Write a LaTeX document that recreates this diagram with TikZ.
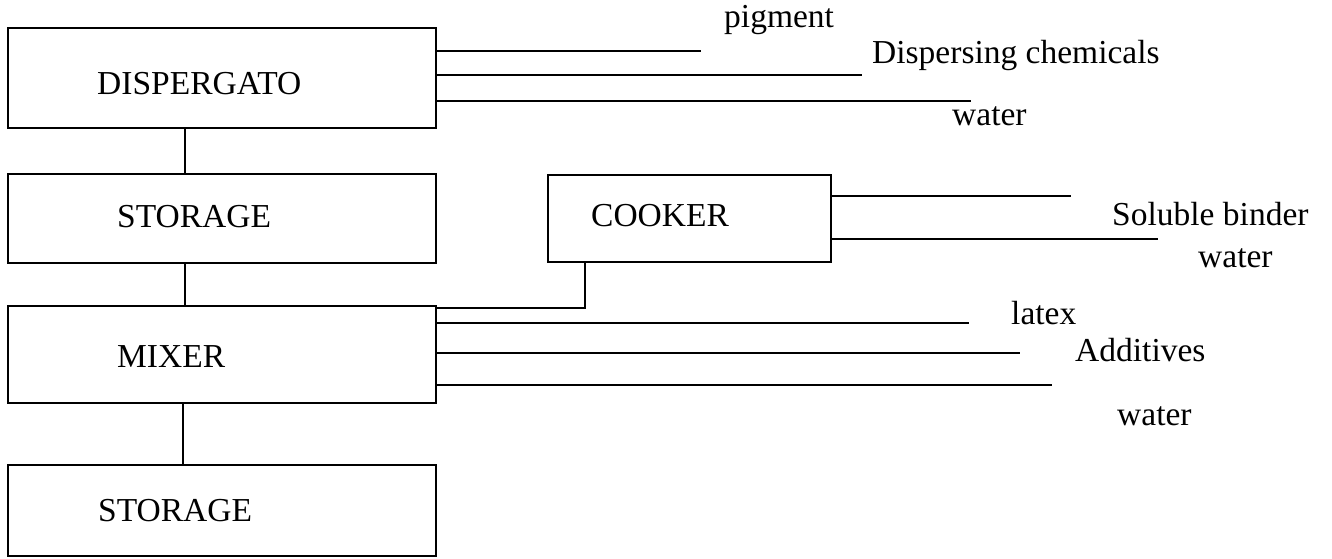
\documentclass[tikz,border=0pt]{standalone}
\usepackage{fontspec}
\setmainfont{Liberation Serif}
\begin{document}
\begin{tikzpicture}[x=1pt,y=-1pt,
  box/.style={draw,line width=1.5pt,inner sep=0pt,anchor=north west},
  lbl/.style={inner sep=0pt,font=\fontsize{33.5}{38}\selectfont},
  feed/.style={line width=1.5pt}]
\useasboundingbox (0,0) rectangle (1332,558);
% boxes
\node[box,minimum width=428pt,minimum height=100pt] (disp) at (7,27) {};
\node[box,minimum width=428pt,minimum height=89pt] (stor1) at (7,173) {};
\node[box,minimum width=283pt,minimum height=87pt] (cook) at (547,174) {};
\node[box,minimum width=428pt,minimum height=97pt] (mix) at (7,305) {};
\node[box,minimum width=428pt,minimum height=91pt] (stor2) at (7,464) {};
% box texts
\node[lbl,anchor=west] (tdisp) at (97,84) {DISPERGATO};
\node[lbl,anchor=west] (tstor1) at (117,217) {STORAGE};
\node[lbl,anchor=west] (tcook) at (591,216) {COOKER};
\node[lbl,anchor=west] (tmix) at (117,357) {MIXER};
\node[lbl,anchor=west] (tstor2) at (98,511) {STORAGE};
% vertical links
\draw[feed] ([xshift=178pt]disp.south west) -- ([xshift=178pt]stor1.north west);
\draw[feed] ([xshift=178pt]stor1.south west) -- ([xshift=178pt]mix.north west);
\draw[feed] ([xshift=176pt]mix.south west) -- ([xshift=176pt]stor2.north west);
\draw[feed] ([xshift=38pt]cook.south west) |- ([yshift=-3pt]mix.north east);
% feed end points
\coordinate (e1) at (701,51);
\coordinate (e2) at (862,75);
\coordinate (e3) at (971,101);
\coordinate (e4) at (1071,196);
\coordinate (e5) at (1158,239);
\coordinate (e6) at (969,323);
\coordinate (e7) at (1020,353);
\coordinate (e8) at (1052,385);
\foreach \e/\n in {e1/disp,e2/disp,e3/disp,e4/cook,e5/cook,e6/mix,e7/mix,e8/mix}
  \draw[feed] (\n.east |- \e) -- (\e);
% feed labels
\node[lbl,anchor=west] (l1) at (724,20) {pigment};
\node[lbl,anchor=west] (l2) at (872,55) {Dispersing chemicals};
\node[lbl,anchor=west] (l3) at (952,116) {water};
\node[lbl,anchor=west] (l4) at (1112,214) {Soluble binder};
\node[lbl,anchor=west] (l5) at (1198,258) {water};
\node[lbl,anchor=west] (l6) at (1011,313) {latex};
\node[lbl,anchor=west] (l7) at (1075,350) {Additives};
\node[lbl,anchor=west] (l8) at (1117,416) {water};
\end{tikzpicture}
\end{document}
